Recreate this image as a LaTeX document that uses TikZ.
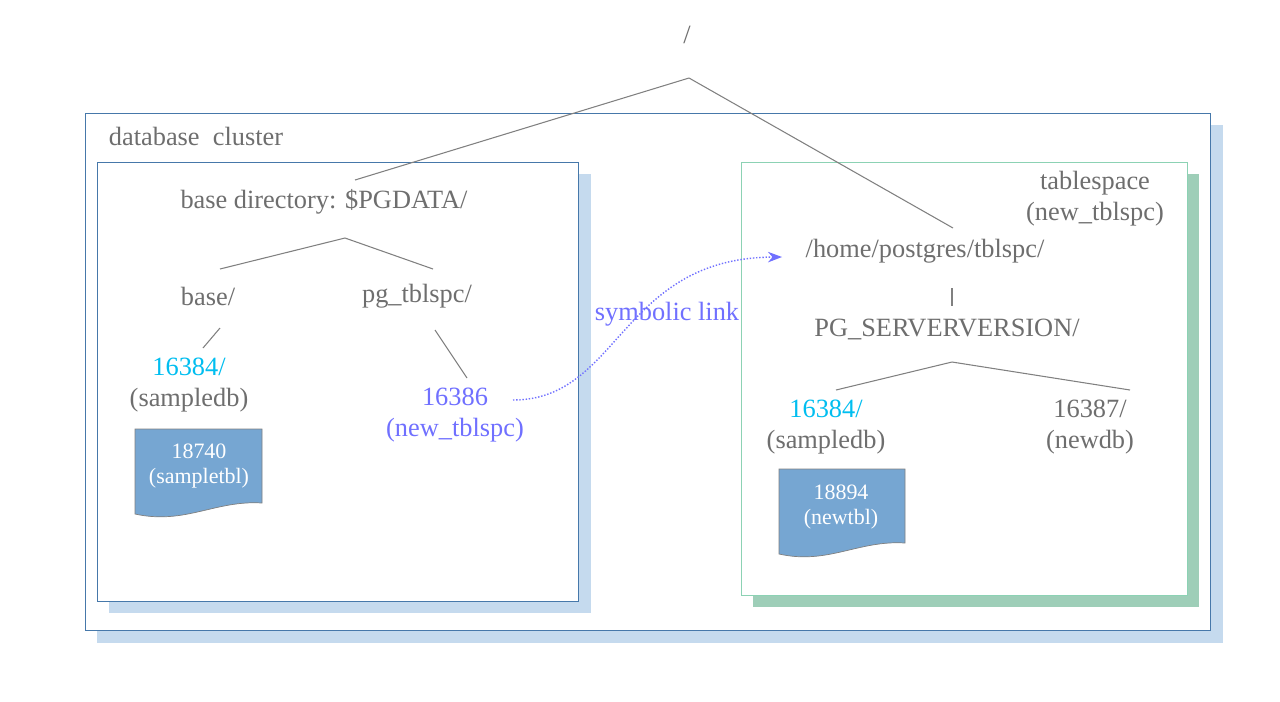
\documentclass[tikz,border=0pt]{standalone}
\usepackage{fontspec}
\setmainfont{Liberation Serif}
\usetikzlibrary{positioning,arrows.meta}
\definecolor{txtgray}{RGB}{110,110,110}
\definecolor{boxblue}{RGB}{70,120,170}
\definecolor{shblue}{RGB}{197,218,238}
\definecolor{boxgreen}{RGB}{140,210,180}
\definecolor{shgreen}{RGB}{158,206,184}
\definecolor{docblue}{RGB}{118,166,210}
\definecolor{linkblue}{RGB}{112,112,255}
\definecolor{idcyan}{RGB}{0,190,240}

\begin{document}
\begin{tikzpicture}[
x=0.02cm,y=-0.02cm,
>=stealth,
lbl/.style={
	text=txtgray,
	font=\fontsize{15}{17.5}\selectfont,
	align=center,
	inner sep=1pt
},
doclbl/.style={
	text=white,
	font=\fontsize{12.5}{14.5}\selectfont,
	align=center,
	inner sep=1pt
},
branch/.style={
	draw=gray,
	semithick
},
doc/.style={
	fill=docblue,
	draw=gray,
	thin
}
]
\useasboundingbox (0,0) rectangle (1280,701);
% boxes with shadows
\fill[shblue] (97,125) rectangle (1223,643);
\draw[boxblue,fill=white] (85,113) rectangle (1210,630);
\fill[shblue] (109,174) rectangle (591,613);
\draw[boxblue,fill=white] (97,162) rectangle (578,601);
\fill[shgreen] (753,174) rectangle (1199,607);
\draw[boxgreen,fill=white] (741,162) rectangle (1187,595);

% documents
\path[doc] (135,429) -- (262,429) -- (262,503) .. controls (215,500) and (185,525) .. (135,514) -- cycle;
\path[doc] (779,469) -- (905,469) -- (905,543) .. controls (858,540) and (828,565) .. (779,554) -- cycle;

% labels
\node[lbl] (root) at (687,35) {/};
\node[lbl] (cluster) at (196,136) {database\ \ cluster};
\node[lbl] (pgdata) at (324,202) {base directory: \$PGDATA/};
\node[lbl] (base) at (208,296) {base/};
\node[lbl] (pgtbl) at (417,296) {pg\_tblspc/};
\node[lbl] (db1) at (189,385) {\textcolor{idcyan}{16384/}\\(sampledb)};
\node[lbl,text=linkblue] (oid) at (455,415) {16386\\(new\_tblspc)};
\node[doclbl] (tbl1) at (199,466) {18740\\(sampletbl)};
\node[lbl] (tspc) at (1095,199) {tablespace\\(new\_tblspc)};
\node[lbl] (home) at (925,251) {/home/postgres/tblspc/};
\node[lbl] (pgver) at (947,329) {PG\_SERVERVERSION/};
\node[lbl] (db2) at (826,427) {\textcolor{idcyan}{16384/}\\(sampledb)};
\node[lbl] (db3) at (1090,427) {16387/\\(newdb)};
\node[doclbl] (tbl2) at (841,507) {18894\\(newtbl)};
\node[lbl,text=linkblue] (symlink) at (667,314) {symbolic link};

% branch points
\coordinate (rootfork) at (689,78);
\coordinate (pgfork) at (345,238);
\coordinate (verfork) at (952,362);
\coordinate (linkstart) at (513,400);
\coordinate (linkend) at (782,257);

\draw[branch] (rootfork) -- (355,180);
\draw[branch] (rootfork) -- (953,228);
\draw[branch] (pgfork) -- (220,269);
\draw[branch] (pgfork) -- (433,269);
\draw[branch] (220,328) -- (203,348);
\draw[branch] (435,330) -- (467,378);
\draw[branch] (952,288) -- (952,306);
\draw[branch] (verfork) -- (836,390);
\draw[branch] (verfork) -- (1130,390);

% symbolic link
\draw[-{Stealth[length=8pt,width=6pt]},linkblue,densely dotted,thick] (linkstart) .. controls (620,400) and (620,258) .. (linkend);
\end{tikzpicture}
\end{document}
